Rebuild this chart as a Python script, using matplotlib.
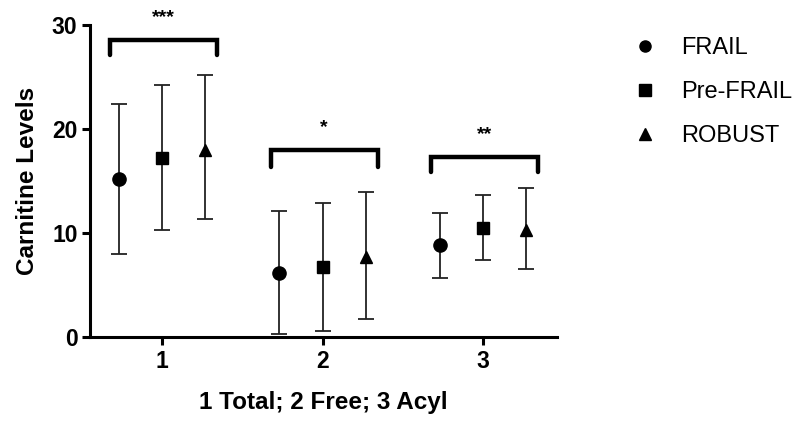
import numpy as np
import matplotlib.pyplot as plt
from matplotlib.lines import Line2D

plt.rcParams['font.family'] = ['Liberation Sans', 'DejaVu Sans']

groups = [1, 2, 3]
series = ['FRAIL', 'Pre-FRAIL', 'ROBUST']
markers = ['o', 's', '^']

# means and error bar ends
means = {
    'FRAIL': [15.2, 6.2, 8.8],
    'Pre-FRAIL': [17.2, 6.7, 10.5],
    'ROBUST': [18.0, 7.7, 10.3],
}
upper = {
    'FRAIL': [22.4, 12.1, 11.9],
    'Pre-FRAIL': [24.2, 12.85, 13.7],
    'ROBUST': [25.2, 13.9, 14.3],
}
lower = {
    'FRAIL': [7.95, 0.3, 5.7],
    'Pre-FRAIL': [10.3, 0.6, 7.4],
    'ROBUST': [11.3, 1.7, 6.5],
}
stars = ['***', '*', '**']
bracket_top = [28.6, 18.0, 17.3]
bracket_leg = [27.1, 16.3, 15.9]

fig = plt.figure(figsize=(7.98, 4.21), dpi=100)
ax = fig.add_axes([0.1128, 0.1995, 0.5852, 0.7411])

offsets = [-0.27, 0.0, 0.27]
for s, m, off in zip(series, markers, offsets):
    x = np.array(groups) + off
    y = np.array(means[s])
    yerr = [y - np.array(lower[s]), np.array(upper[s]) - y]
    ax.errorbar(x, y, yerr=yerr, fmt=m, color='black', ms=9.5 if m == 'o' else 9,
                ecolor='#222222', elinewidth=1.3, capsize=5.5, capthick=1.3,
                clip_on=False, zorder=3)

# significance brackets
for g, st, top, leg in zip(groups, stars, bracket_top, bracket_leg):
    x0, x1 = g - 0.324, g + 0.343
    ax.plot([x0, x0, x1, x1], [leg, top, top, leg], color='black', lw=3.2,
            solid_capstyle='round', solid_joinstyle='miter', clip_on=False)
    ax.text((x0 + x1) / 2, top + 1.3, st, ha='center', va='bottom',
            fontsize=14, fontweight='bold', clip_on=False)

ax.set_xlim(0.551, 3.461)
ax.set_ylim(0, 30)
ax.set_xticks(groups)
ax.set_yticks([0, 10, 20, 30])
for side in ['top', 'right']:
    ax.spines[side].set_visible(False)
for side in ['left', 'bottom']:
    ax.spines[side].set_linewidth(2.2)
ax.tick_params(width=2.2, length=6, labelsize=16.5, pad=3)
for lab in ax.get_xticklabels() + ax.get_yticklabels():
    lab.set_fontweight('bold')

ax.set_xlabel('1 Total; 2 Free; 3 Acyl', fontsize=17.5, fontweight='bold', labelpad=13)
ax.set_ylabel('Carnitine Levels', fontsize=17.5, fontweight='bold', labelpad=9)

handles = [Line2D([], [], marker=m, ls='none', color='black', ms=8) for m in markers]
fig.legend(handles, series, loc='upper left', bbox_to_anchor=(0.779, 0.939),
           frameon=False, fontsize=17, handlelength=1.0, handletextpad=1.0,
           labelspacing=0.92, borderpad=0)

fig.savefig('out.png', dpi=100)
